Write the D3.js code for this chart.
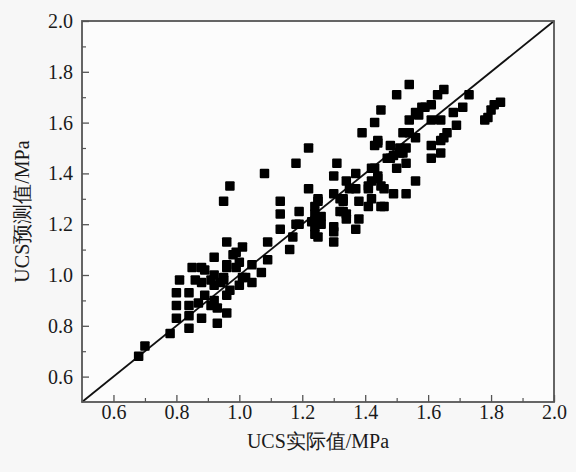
<!DOCTYPE html>
<html>
<head>
<meta charset="utf-8">
<script src="https://cdn.jsdelivr.net/npm/d3@7/dist/d3.min.js"></script>
<style>
  html, body { margin: 0; padding: 0; background: #f7f7f7; }
  svg { display: block; }
  svg text { font-family: 'Liberation Serif', 'DejaVu Serif', serif !important; }
</style>
</head>
<body>
<svg id="chart" width="576" height="472"></svg>
<script>
// Measured UCS (x, MPa) against predicted UCS (y, MPa)
const actualUCS = [
  0.68, 0.70, 0.78, 0.84, 0.80, 0.88, 0.93, 0.80, 0.80, 0.81,
  0.85, 0.88, 0.92, 0.96, 0.84, 0.88, 0.91, 0.94, 0.87, 0.91,
  0.93, 0.96, 0.89, 0.96, 0.84, 0.84, 0.92, 0.97, 0.95, 0.96,
  0.99, 1.01, 1.00, 1.01, 1.04, 1.04, 1.07, 0.96, 0.98, 0.99,
  1.02, 1.00, 0.89, 0.92, 0.95, 0.92, 0.86,
  0.97, 0.95, 1.08, 1.13, 1.13, 1.13, 1.19, 1.22, 1.18, 1.17,
  1.16, 1.09, 1.09, 1.18, 1.22, 1.31, 1.30, 1.25, 1.24, 1.25,
  1.24, 1.25, 1.30, 1.30, 1.30, 1.33, 1.32, 1.34, 1.35, 1.37,
  1.37, 1.38, 1.24, 1.26, 1.26, 1.19, 1.24, 1.30, 1.25, 1.33,
  1.38, 1.23,
  1.54, 1.65, 1.50, 1.63, 1.73, 1.61, 1.58, 1.71, 1.45, 1.68,
  1.56, 1.54, 1.61, 1.64, 1.43, 1.69, 1.66, 1.64, 1.52, 1.54,
  1.56, 1.39, 1.44, 1.48, 1.43, 1.61, 1.64, 1.61, 1.51, 1.52,
  1.49, 1.47, 1.43, 1.50, 1.53, 1.44, 1.42, 1.56, 1.41, 1.45,
  1.32, 1.42, 1.49, 1.53, 1.41, 1.46, 1.65, 1.42, 1.46, 1.44,
  1.33, 1.34, 1.41, 1.34, 1.48, 1.51, 1.53, 1.44, 1.45, 1.59,
  1.57, 1.37,
  1.83, 1.81, 1.80, 1.79, 1.78
];
const predictedUCS = [
  0.68, 0.72, 0.77, 0.79, 0.83, 0.83, 0.81, 0.88, 0.93, 0.98,
  1.03, 1.03, 1.07, 1.03, 0.93, 0.97, 0.98, 0.97, 0.89, 0.88,
  0.87, 0.85, 0.92, 0.92, 0.88, 0.84, 0.90, 0.94, 0.98, 1.13,
  1.09, 1.11, 1.05, 0.99, 0.97, 1.04, 1.01, 1.04, 1.08, 1.03,
  0.99, 0.96, 1.02, 1.00, 0.99, 0.96, 0.98,
  1.35, 1.29, 1.40, 1.29, 1.24, 1.18, 1.25, 1.34, 1.20, 1.15,
  1.10, 1.13, 1.06, 1.44, 1.50, 1.44, 1.39, 1.29, 1.24, 1.21,
  1.19, 1.15, 1.19, 1.13, 1.32, 1.29, 1.25, 1.22, 1.34, 1.40,
  1.18, 1.29, 1.27, 1.23, 1.20, 1.20, 1.16, 1.17, 1.30, 1.25,
  1.22, 1.21,
  1.75, 1.73, 1.71, 1.71, 1.71, 1.67, 1.66, 1.66, 1.65, 1.64,
  1.64, 1.61, 1.61, 1.61, 1.60, 1.59, 1.56, 1.53, 1.56, 1.56,
  1.54, 1.56, 1.53, 1.51, 1.51, 1.51, 1.48, 1.46, 1.50, 1.48,
  1.47, 1.46, 1.42, 1.42, 1.44, 1.38, 1.37, 1.37, 1.34, 1.35,
  1.30, 1.30, 1.32, 1.32, 1.27, 1.27, 1.54, 1.42, 1.34, 1.39,
  1.30, 1.24, 1.35, 1.37, 1.46, 1.48, 1.50, 1.52, 1.27, 1.66,
  1.63, 1.34,
  1.68, 1.67, 1.65, 1.62, 1.61
];
const xTicks = [0.6, 0.8, 1.0, 1.2, 1.4, 1.6, 1.8, 2.0];
const yTicks = [0.6, 0.8, 1.0, 1.2, 1.4, 1.6, 1.8, 2.0];
const minorTicks = [0.7, 0.9, 1.1, 1.3, 1.5, 1.7, 1.9];
const axisRange = [0.5, 2.0];
const xTitle = "UCS实际值/MPa";
const yTitle = "UCS预测值/MPa";

const points = actualUCS.map((v, i) => ({ x: v, y: predictedUCS[i] }));

const svg = d3.select("#chart");
const margin = { left: 82, top: 21, right: 22, bottom: 70 };
const W = 576, H = 472;
const plotW = W - margin.left - margin.right;
const plotH = H - margin.top - margin.bottom;

const x = d3.scaleLinear().domain(axisRange).range([0, plotW]);
const y = d3.scaleLinear().domain(axisRange).range([plotH, 0]);

const g = svg.append("g").attr("transform", `translate(${margin.left},${margin.top})`);

g.append("rect")
  .attr("width", plotW).attr("height", plotH)
  .attr("fill", "#fcfcfc");

// Major ticks point inward; minor ticks are shorter
function styleAxis(sel) {
  sel.attr("font-family", null).attr("font-size", 20);
  sel.select(".domain").remove();
  sel.selectAll(".tick line").attr("stroke", "#555").attr("stroke-width", 1.3);
  sel.selectAll(".tick text").attr("fill", "#1a1a1a");
}

const xAxis = g.append("g")
  .attr("transform", `translate(0,${plotH})`)
  .call(d3.axisBottom(x).tickValues(xTicks).tickFormat(d3.format(".1f"))
    .tickSizeInner(-7).tickSizeOuter(0).tickPadding(3));
styleAxis(xAxis);

g.append("g")
  .attr("transform", `translate(0,${plotH})`)
  .call(d3.axisBottom(x).tickValues(minorTicks).tickFormat("").tickSizeInner(-4).tickSizeOuter(0))
  .call(s => { s.select(".domain").remove(); s.selectAll("line").attr("stroke", "#555").attr("stroke-width", 1.2); });

const yAxis = g.append("g")
  .call(d3.axisLeft(y).tickValues(yTicks).tickFormat(d3.format(".1f"))
    .tickSizeInner(-7).tickSizeOuter(0).tickPadding(9));
styleAxis(yAxis);

g.append("g")
  .call(d3.axisLeft(y).tickValues(minorTicks).tickFormat("").tickSizeInner(-4).tickSizeOuter(0))
  .call(s => { s.select(".domain").remove(); s.selectAll("line").attr("stroke", "#555").attr("stroke-width", 1.2); });

// 1:1 reference line
g.append("line")
  .attr("x1", x(axisRange[0])).attr("y1", y(axisRange[0]))
  .attr("x2", x(axisRange[1])).attr("y2", y(axisRange[1]))
  .attr("stroke", "#111").attr("stroke-width", 1.8);

// Square markers
const s = 9.5;
g.append("g").selectAll("rect")
  .data(points)
  .join("rect")
  .attr("x", d => x(d.x) - s / 2)
  .attr("y", d => y(d.y) - s / 2)
  .attr("width", s).attr("height", s)
  .attr("rx", 1)
  .attr("fill", "#000");

// Frame
g.append("rect")
  .attr("width", plotW).attr("height", plotH)
  .attr("fill", "none").attr("stroke", "#555").attr("stroke-width", 1.8);

svg.append("text")
  .attr("x", margin.left + plotW / 2)
  .attr("y", 448)
  .attr("text-anchor", "middle")
  .attr("font-size", 20)
  .attr("fill", "#1a1a1a")
  .text(xTitle);

svg.append("text")
  .attr("transform", `translate(29,${margin.top + plotH / 2}) rotate(-90)`)
  .attr("text-anchor", "middle")
  .attr("font-size", 20)
  .attr("fill", "#1a1a1a")
  .text(yTitle);
</script>
</body>
</html>
